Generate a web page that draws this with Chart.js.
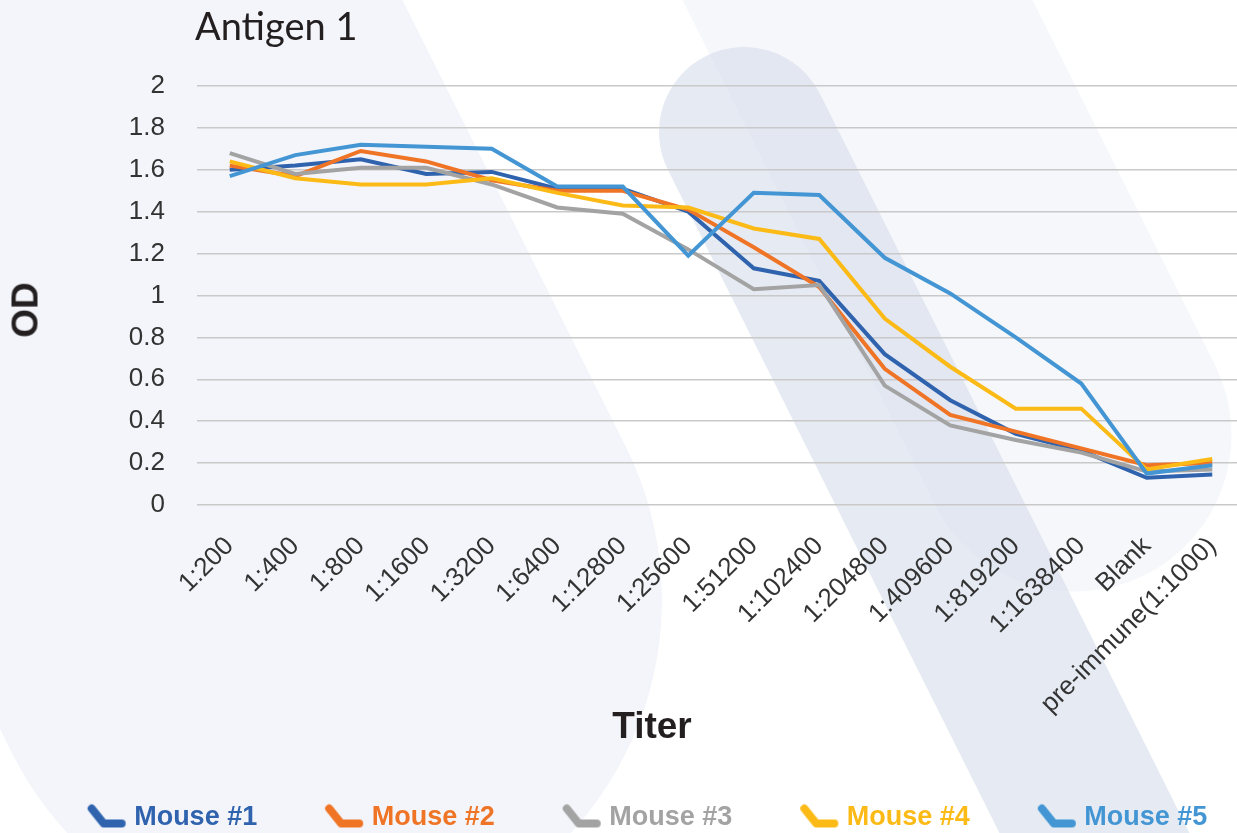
<!DOCTYPE html>
<html>
<head>
<meta charset="utf-8">
<script src="https://cdn.jsdelivr.net/npm/chart.js@4/dist/chart.umd.min.js"></script>
<style>
  html, body { margin: 0; padding: 0; width: 1237px; height: 833px; overflow: hidden; background: #fff; }
  #wrap { position: absolute; left: 0; top: 0; width: 1300px; height: 833px; }
  .lbl { position: absolute; color: #231f20; white-space: nowrap; z-index: 2; }
  #title { left: 195px; top: 6px; font: 38px/38px Lato, "Noto Sans", sans-serif; }
  #ytitle { left: 25px; top: 310px; font: bold 37px/37px "Liberation Sans", Arial, sans-serif; transform: translate(-50%, -50%) rotate(-90deg); }
  #xtitle { left: 652px; top: 725px; font: bold 37px/37px "Liberation Sans", Arial, sans-serif; transform: translate(-50%, -50%); }
</style>
</head>
<body>
<div id="wrap"><canvas id="myChart" width="1300" height="833"></canvas></div>
<div class="lbl" id="title">Antigen 1</div>
<div class="lbl" id="ytitle">OD</div>
<div class="lbl" id="xtitle">Titer</div>
<script>
const titers = ['1:200', '1:400', '1:800', '1:1600', '1:3200', '1:6400', '1:12800', '1:25600',
    '1:51200', '1:102400', '1:204800', '1:409600', '1:819200', '1:1638400', 'Blank', 'pre-immune(1:1000)'];

const mouse1 = [1.60, 1.62, 1.65, 1.58, 1.59, 1.51, 1.51, 1.40, 1.13, 1.07, 0.72, 0.50, 0.34, 0.26, 0.13, 0.145];
const mouse2 = [1.62, 1.57, 1.69, 1.64, 1.55, 1.50, 1.50, 1.41, 1.23, 1.04, 0.65, 0.43, 0.35, 0.27, 0.19, 0.20];
const mouse3 = [1.68, 1.58, 1.61, 1.61, 1.53, 1.42, 1.39, 1.22, 1.03, 1.05, 0.57, 0.38, 0.31, 0.25, 0.16, 0.17];
const mouse4 = [1.64, 1.56, 1.53, 1.53, 1.56, 1.49, 1.43, 1.42, 1.32, 1.27, 0.89, 0.66, 0.46, 0.46, 0.17, 0.22];
const mouse5 = [1.57, 1.67, 1.72, 1.71, 1.70, 1.52, 1.52, 1.19, 1.49, 1.48, 1.18, 1.01, 0.80, 0.58, 0.15, 0.19];

const seriesNames = ['Mouse #1', 'Mouse #2', 'Mouse #3', 'Mouse #4', 'Mouse #5'];
const seriesColors = ['#2f63ae', '#ef7426', '#a3a3a3', '#fcba16', '#4396d3'];

// the little "\_" marker used in the legend
function makeMarker(color) {
    const c = document.createElement('canvas');
    c.width = 42;
    c.height = 30;
    const g = c.getContext('2d');
    g.strokeStyle = color;
    g.lineWidth = 8;
    g.lineCap = 'round';
    g.lineJoin = 'round';
    g.beginPath();
    g.moveTo(6, 6);
    g.lineTo(18, 21);
    g.lineTo(36, 21);
    g.stroke();
    return c;
}

function band(ctx, x1, y1, x2, y2, w, color) {
    ctx.beginPath();
    ctx.lineCap = 'round';
    ctx.lineWidth = w;
    ctx.strokeStyle = color;
    ctx.moveTo(x1, y1);
    ctx.lineTo(x2, y2);
    ctx.stroke();
}

// decorative background swooshes
const backdrop = {
    id: 'backdrop',
    beforeDraw(chart) {
        const ctx = chart.ctx;
        ctx.save();
        ctx.fillStyle = '#ffffff';
        ctx.fillRect(0, 0, chart.width, chart.height);
        band(ctx, -281, -600, 319, 600, 686, '#f4f5fa');
        band(ctx, 675, -365, 1075, 435, 313, '#f6f7fa');
        band(ctx, 744, 132, 1144, 932, 170, 'rgba(205, 215, 232, 0.5)');
        ctx.restore();
    }
};

const data = [mouse1, mouse2, mouse3, mouse4, mouse5];
const markers = seriesColors.map(makeMarker);

new Chart(document.getElementById('myChart').getContext('2d'), {
    type: 'line',
    data: {
        labels: titers,
        datasets: data.map((values, i) => ({
            label: seriesNames[i],
            data: values,
            borderColor: seriesColors[i],
            backgroundColor: seriesColors[i],
            borderWidth: 4,
            pointRadius: 0,
            tension: 0,
            order: data.length - 1 - i
        }))
    },
    options: {
        responsive: false,
        animation: false,
        devicePixelRatio: 1,
        layout: { padding: { top: 86, left: 0, right: 0, bottom: -8 } },
        plugins: {
            tooltip: { enabled: false },
            legend: {
                position: 'bottom',
                labels: {
                    usePointStyle: true,
                    pointStyleWidth: 28,
                    padding: 73,
                    font: { family: '"Liberation Sans", Arial, sans-serif', size: 27, weight: 'bold' },
                    generateLabels: (chart) => chart.data.datasets.map((ds, i) => ({
                        text: ds.label,
                        fontColor: ds.borderColor,
                        fillStyle: ds.borderColor,
                        strokeStyle: ds.borderColor,
                        lineWidth: 0,
                        pointStyle: markers[i],
                        hidden: false,
                        datasetIndex: i
                    }))
                }
            }
        },
        scales: {
            x: {
                offset: true,
                grid: { display: false },
                border: { display: false },
                ticks: {
                    autoSkip: false,
                    minRotation: 45,
                    maxRotation: 45,
                    padding: 18,
                    color: '#333333',
                    font: { family: '"Liberation Sans", Arial, sans-serif', size: 26 }
                },
                afterFit(scale) { scale.height = 226; }
            },
            y: {
                min: 0,
                max: 2,
                grid: { color: '#c9c9c9', lineWidth: 1.5, drawTicks: false },
                border: { display: false },
                ticks: {
                    stepSize: 0.2,
                    padding: 32,
                    color: '#333333',
                    font: { family: '"Liberation Sans", Arial, sans-serif', size: 26 },
                    callback: (v) => String(Math.round(v * 10) / 10)
                },
                afterFit(scale) { scale.width = 197; }
            },
            spacer: {
                type: 'linear',
                position: 'right',
                grid: { display: false },
                border: { display: false },
                ticks: { display: false },
                afterFit(scale) { scale.width = 55; }
            }
        }
    },
    plugins: [backdrop]
});
</script>
</body>
</html>
